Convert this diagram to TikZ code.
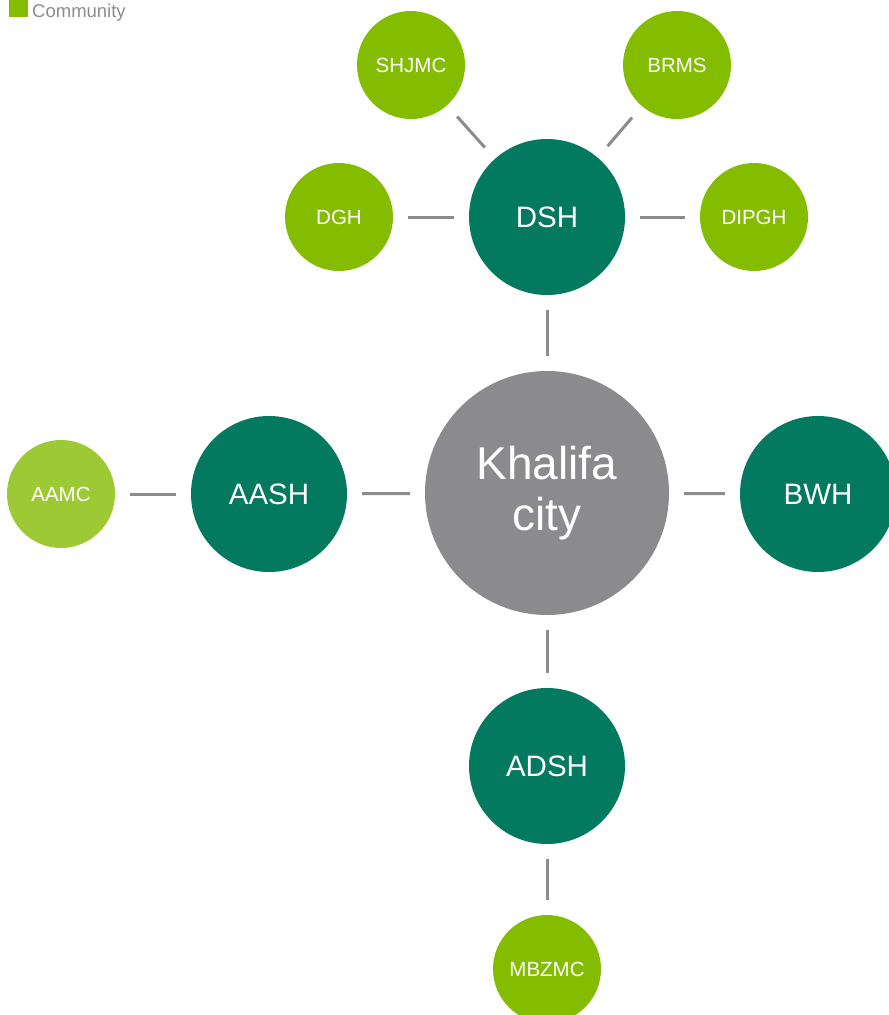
\documentclass[tikz,border=0pt]{standalone}
\usepackage{fontspec}
\setmainfont{Liberation Sans}
\definecolor{dkgreen}{HTML}{037A60}
\definecolor{ltgreen}{HTML}{84BC00}
\definecolor{altgreen}{HTML}{9DCA34}
\definecolor{hubgray}{HTML}{8B8B8D}
\definecolor{linegray}{HTML}{8C8C8C}
\tikzset{
  hub/.style={circle, fill=hubgray, minimum size=244pt, inner sep=0pt, text=white, align=center, font=\fontsize{46}{51}\selectfont},
  major/.style={circle, fill=dkgreen, minimum size=156pt, inner sep=0pt, text=white, font=\fontsize{29.5}{34}\selectfont},
  minor/.style={circle, fill=ltgreen, minimum size=108pt, inner sep=0pt, text=white, font=\fontsize{20.5}{24}\selectfont},
  conn/.style={draw=linegray, line width=3pt, shorten >=15pt, shorten <=15pt},
}
\begin{document}
\begin{tikzpicture}[x=1pt, y=-1pt]
\useasboundingbox (0,0) rectangle (889,1015);
\clip (0,0) rectangle (889,1015);
% legend
\fill[ltgreen] (9,0) rectangle (28,17);
\node[anchor=base west, text=linegray, inner sep=0pt, font=\fontsize{18.5}{22}\selectfont] (legend) at (32,17.5) {Community};
% nodes
\node[hub] (kc) at (547,493) {Khalifa\\city};
\node[major] (dsh) at (547,217) {DSH};
\node[major] (aash) at (269,494) {AASH};
\node[major] (bwh) at (818,494) {BWH};
\node[major] (adsh) at (547,766) {ADSH};
\node[minor] (shjmc) at (411,65) {SHJMC};
\node[minor] (brms) at (677,65) {BRMS};
\node[minor] (dgh) at (339,217) {DGH};
\node[minor] (dipgh) at (754,217) {DIPGH};
\node[minor, fill=altgreen] (aamc) at (61,494) {AAMC};
\node[minor] (mbzmc) at (547,969) {MBZMC};
% connectors
\draw[conn] (dsh) -- (kc);
\draw[conn] (aash) -- (kc);
\draw[conn] (kc) -- (bwh);
\draw[conn] (kc) -- (adsh);
\draw[conn] (adsh) -- (mbzmc);
\draw[conn] (aamc) -- (aash);
\draw[conn] (dgh) -- (dsh);
\draw[conn] (dsh) -- (dipgh);
\draw[conn] (shjmc) -- (dsh);
\draw[conn] (brms) -- (dsh);
\end{tikzpicture}
\end{document}
